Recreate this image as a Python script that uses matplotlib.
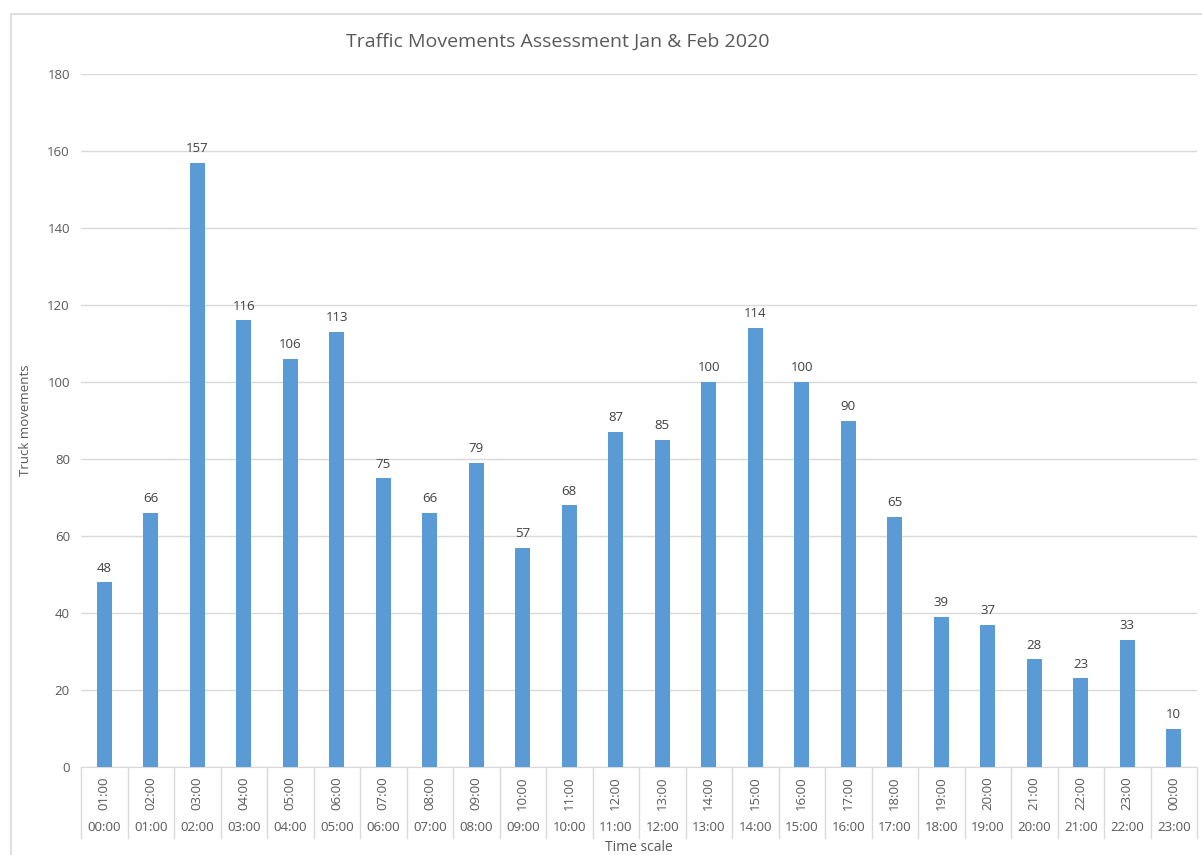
import matplotlib
matplotlib.use("Agg")
from matplotlib import pyplot as plt
from matplotlib.patches import Rectangle
import numpy as np

# data
hours_to = ["01:00", "02:00", "03:00", "04:00", "05:00", "06:00", "07:00", "08:00",
            "09:00", "10:00", "11:00", "12:00", "13:00", "14:00", "15:00", "16:00",
            "17:00", "18:00", "19:00", "20:00", "21:00", "22:00", "23:00", "00:00"]
hours_from = ["00:00", "01:00", "02:00", "03:00", "04:00", "05:00", "06:00", "07:00",
              "08:00", "09:00", "10:00", "11:00", "12:00", "13:00", "14:00", "15:00",
              "16:00", "17:00", "18:00", "19:00", "20:00", "21:00", "22:00", "23:00"]
movements = [48, 66, 157, 116, 106, 113, 75, 66, 79, 57, 68, 87,
             85, 100, 114, 100, 90, 65, 39, 37, 28, 23, 33, 10]

plt.rcParams['font.family'] = ['Open Sans', 'DejaVu Sans']
txt = "#595959"
grid_c = "#D9D9D9"

W, H = 1202, 855
fig = plt.figure(figsize=(W / 100, H / 100), dpi=100)

# chart-area border (cut off on right and bottom)
fig.patches.append(Rectangle((11 / W, -0.1), 1.2, 1 - 14 / H + 0.1,
                             transform=fig.transFigure, fill=False,
                             edgecolor=grid_c, linewidth=1.2))

ax = fig.add_axes([81 / W, 1 - 767 / H, (1197 - 81) / W, (767 - 74) / H])
x = np.arange(len(movements))
ax.bar(x, movements, width=0.33, color="#5B9BD5", zorder=3)
for xi, v in zip(x, movements):
    ax.text(xi, v + 2, str(v), ha="center", va="bottom", fontsize=9.5, color="#404040")

ax.set_xlim(-0.5, len(movements) - 0.5)
ax.set_ylim(0, 180)
ax.set_yticks(range(0, 181, 20))
ax.grid(axis="y", color=grid_c, linewidth=1, zorder=0)
for s in ["top", "right", "left"]:
    ax.spines[s].set_visible(False)
ax.spines["bottom"].set_color(grid_c)
ax.tick_params(axis="y", length=0, pad=8, labelsize=9.5, labelcolor=txt)

# multi-level category axis
ax.set_xticks(x)
ax.set_xticklabels(hours_to, rotation=90, fontsize=9.5, color=txt)
ax.tick_params(axis="x", length=0, pad=7)
trans = ax.get_xaxis_transform()
for xi, lab in zip(x, hours_from):
    ax.text(xi, -0.088, lab, transform=trans, ha="center", va="center",
            fontsize=9.5, color=txt, clip_on=False)
for b in np.arange(len(movements) + 1) - 0.5:
    ax.plot([b, b], [0, -0.103], transform=trans, color=grid_c,
            linewidth=1, clip_on=False)

ax.set_ylabel("Truck movements", fontsize=9.5, color=txt)
ax.yaxis.set_label_coords(-0.044, 0.5)
fig.text(639 / W, 0.0, "Time scale", ha="center", va="bottom",
         fontsize=10, color=txt)
fig.text(558 / W, 1 - 42 / H, "Traffic Movements Assessment Jan & Feb 2020",
         ha="center", va="center", fontsize=14, color=txt)

fig.savefig("out.png", dpi=100)
